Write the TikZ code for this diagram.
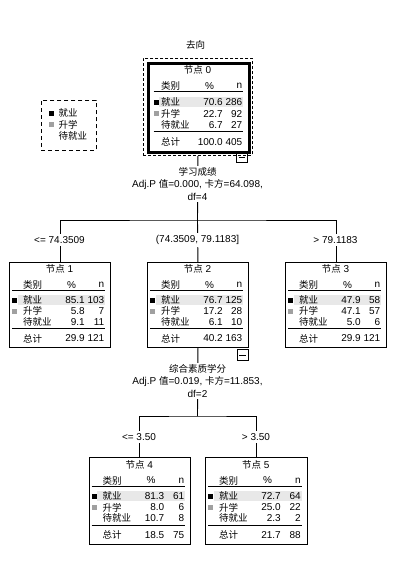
\documentclass[tikz,border=0pt]{standalone}
\usepackage{fontspec}
\setmainfont{Liberation Sans}
\newfontfamily\cjk{Noto Sans CJK SC}[Scale=0.95]
\usetikzlibrary{backgrounds}
\definecolor{bandgray}{HTML}{E8E8E8}
\definecolor{sqgray}{HTML}{A0A0A0}
\newcommand\zh[1]{{\cjk #1}}
\newcommand\sqoff{3}
\newcommand\pctoff{76}
\def\tbrows#1/#2/#3/#4/#5/#6/#7/#8\relax{%
  \node[txt,anchor=west] at ({\tbL+14},{\tbT+0.45*\tbH}) {\zh{就业}};
  \node[txt,anchor=east] at ({\tbL+\pctoff},{\tbT+0.45*\tbH}) {#1};
  \node[txt,anchor=east] at ({\tbL+\tbW-5.5},{\tbT+0.45*\tbH}) {#2};
  \node[txt,anchor=west] at ({\tbL+14},{\tbT+0.58*\tbH}) {\zh{升学}};
  \node[txt,anchor=east] at ({\tbL+\pctoff},{\tbT+0.58*\tbH}) {#3};
  \node[txt,anchor=east] at ({\tbL+\tbW-5.5},{\tbT+0.58*\tbH}) {#4};
  \node[txt,anchor=west] at ({\tbL+14},{\tbT+0.705*\tbH}) {\zh{待就业}};
  \node[txt,anchor=east] at ({\tbL+\pctoff},{\tbT+0.705*\tbH}) {#5};
  \node[txt,anchor=east] at ({\tbL+\tbW-5.5},{\tbT+0.705*\tbH}) {#6};
  \node[txt,anchor=west] at ({\tbL+14},{\tbT+0.9*\tbH}) {\zh{总计}};
  \node[txt,anchor=east] at ({\tbL+\pctoff},{\tbT+0.9*\tbH}) {#7};
  \node[txt,anchor=east] at ({\tbL+\tbW-5.5},{\tbT+0.9*\tbH}) {#8};
}
% [box options] name, L, T, W, H, title, data
\newcommand\treebox[8][]{%
  \def\tbL{#3}\def\tbT{#4}\def\tbW{#5}\def\tbH{#6}%
  \node[treebox,#1,minimum width=#5pt,minimum height=#6pt] (#2) at (#3,#4) {};
  \fill[bandgray] ({#3+\sqoff+5.5},{#4+0.45*#6-5.5}) rectangle ({#3+#5-5},{#4+0.45*#6+5});
  \node[txt] at ({#3+0.5*#5},{#4+0.085*#6}) {#7};
  \node[txt,anchor=west] at ({#3+14},{#4+0.27*#6}) {\zh{类别}};
  \node[txt] at ({#3+62.5},{#4+0.27*#6}) {\%};
  \node[txt,anchor=east] at ({#3+#5-5.5},{#4+0.27*#6}) {n};
  \draw[hrule] ({#3+\sqoff},{#4+0.335*#6}) -- ({#3+#5-5},{#4+0.335*#6});
  \draw[hrule] ({#3+\sqoff},{#4+0.785*#6}) -- ({#3+#5-5},{#4+0.785*#6});
  \fill[black] ({#3+\sqoff},{#4+0.45*#6-2.5}) rectangle +(5,5);
  \fill[sqgray] ({#3+\sqoff},{#4+0.58*#6-2.5}) rectangle +(5,5);
  \tbrows#8\relax
}
\begin{document}
\begin{tikzpicture}[x=1pt,y=-1pt,
  every node/.style={font=\fontsize{10}{12.5}\selectfont},
  treebox/.style={draw,line width=0.9pt,fill=white,inner sep=0pt,anchor=north west},
  txt/.style={inner sep=0pt},
  hrule/.style={line width=0.9pt},
  conn/.style={line width=0.9pt},
  splittxt/.style={align=center,fill=white,inner sep=1.5pt},
  lbl/.style={fill=white,inner sep=2pt},
  minusbox/.style={draw,line width=0.9pt,minimum size=11pt,inner sep=0pt,anchor=north west}]
\useasboundingbox (0,0) rectangle (395,581);
\begin{scope}[on background layer]
  \fill[white] (0,0) rectangle (395,581);
\end{scope}

\node[txt] (title) at (195.5,45) {\zh{去向}};

% legend
\node[draw,line width=0.9pt,dash pattern=on 4pt off 3pt,minimum width=55pt,minimum height=50pt,inner sep=0pt,anchor=north west] (leg) at (41,100) {};
\fill[black] (49,110.5) rectangle +(5,5);
\fill[sqgray] (49,121.5) rectangle +(5,5);
\node[txt,anchor=west] (leg1) at (58.5,113) {\zh{就业}};
\node[txt,anchor=west] (leg2) at (58.5,124.5) {\zh{升学}};
\node[txt,anchor=west] (leg3) at (58.5,136) {\zh{待就业}};

% node 0
\node[draw,line width=0.9pt,dash pattern=on 3pt off 2pt,minimum width=109pt,minimum height=97pt,inner sep=0pt,anchor=north west] (dash0) at (143,58) {};
\renewcommand\sqoff{6.5}
\treebox[line width=2.6pt]{n0}{147}{62}{101}{89}{\zh{节点} 0}{70.6/286/22.7/92/6.7/27/100.0/405}
\node[minusbox] (m0) at (236,151) {};
\draw[line width=0.9pt] ([xshift=2.5pt]m0.west) -- ([xshift=-2.5pt]m0.east);

\renewcommand\sqoff{3}
\treebox{n1}{9}{262}{101}{85}{\zh{节点} 1}{85.1/103/5.8/7/9.1/11/29.9/121}
\treebox{n2}{147}{262}{101}{85}{\zh{节点} 2}{76.7/125/17.2/28/6.1/10/40.2/163}
\node[minusbox] (m2) at (236.5,349) {};
\draw[line width=0.9pt] ([xshift=2.5pt]m2.west) -- ([xshift=-2.5pt]m2.east);
\treebox{n3}{285}{262}{101}{85}{\zh{节点} 3}{47.9/58/47.1/57/5.0/6/29.9/121}
\treebox{n4}{88.5}{457}{101.5}{87}{\zh{节点} 4}{81.3/61/8.0/6/10.7/8/18.5/75}
\treebox{n5}{205}{457}{101.5}{87}{\zh{节点} 5}{72.7/64/25.0/22/2.3/2/21.7/88}

% split texts
\node[splittxt] (s0) at (197.5,184) {\zh{学习成绩}\\Adj.P \zh{值}=0.000, \zh{卡方}=64.098,\\df=4};
\node[splittxt] (s2) at (197.5,381) {\zh{综合素质学分}\\Adj.P \zh{值}=0.019, \zh{卡方}=11.853,\\df=2};

\coordinate (b0) at (197.5,220);
\coordinate (b1) at (197.5,416);

\node[lbl] (c1) at (59.5,240) {<= 74.3509};
\node[lbl] (c2) at (197.5,240) {(74.3509, 79.1183]};
\node[lbl] (c3) at (335.5,240) {> 79.1183};
\node[lbl] (c4) at (139,437) {<= 3.50};
\node[lbl] (c5) at (256,437) {> 3.50};

\begin{scope}[on background layer]
  \draw[conn] (dash0.south) -- (b0);
  \draw[conn] (n1.north) |- (b0) -| (n3.north);
  \draw[conn] (b0) -- (n2.north);
  \draw[conn] (n2.south) -- (b1);
  \draw[conn] (n4.north) |- (b1) -| (n5.north);
\end{scope}
\end{tikzpicture}
\end{document}
